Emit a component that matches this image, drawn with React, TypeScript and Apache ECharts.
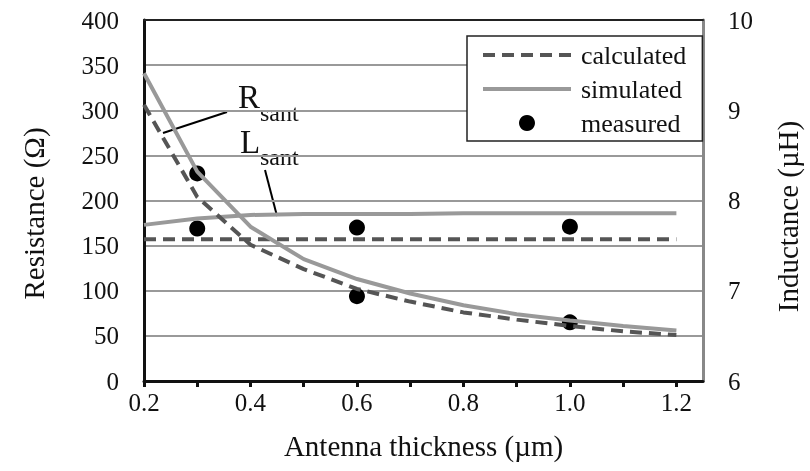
import React, { useEffect, useRef } from "react";
import * as echarts from "echarts";

const thickness = [0.2, 0.3, 0.4, 0.5, 0.6, 0.7, 0.8, 0.9, 1.0, 1.1, 1.2];
const calcR = [306, 204, 151, 124, 102, 88, 76, 68, 61, 55, 51];
const simR = [341, 232, 171, 135, 113, 97, 84, 74, 67, 61, 56];
const calcL = [7.57, 7.57, 7.57, 7.57, 7.57, 7.57, 7.57, 7.57, 7.57, 7.57, 7.57];
const simL = [7.73, 7.8, 7.84, 7.85, 7.85, 7.85, 7.86, 7.86, 7.86, 7.86, 7.86];
const measX = [0.3, 0.6, 1.0];
const measR = [230, 94, 65];
const measL = [7.69, 7.7, 7.71];
const legendNames = ["calculated", "simulated", "measured"];

const FONT = "Liberation Serif";
const pair = (xs: number[], ys: number[]) => xs.map((x, i) => [x, ys[i]]);

const CALC_COLOR = "#555";
const SIM_COLOR = "#999";
const CALC_DASH = [12, 7];

export default function App() {
  const ref = useRef<HTMLDivElement>(null);
  useEffect(() => {
    if (!ref.current) return;
    const chart = echarts.init(ref.current, null, { renderer: "svg" });
    const calcStyle = { color: CALC_COLOR, width: 4, type: CALC_DASH as any };
    const simStyle = { color: SIM_COLOR, width: 4, type: "solid" as any };
    chart.setOption({
      animation: false,
      grid: { left: 144, right: 100, top: 20, bottom: 90 },
      legend: {
        data: [
          { name: legendNames[0], itemStyle: { opacity: 0 }, lineStyle: { color: CALC_COLOR, width: 4, type: CALC_DASH } },
          { name: legendNames[1], itemStyle: { opacity: 0 }, lineStyle: { color: SIM_COLOR, width: 4, type: "solid" } },
          { name: legendNames[2], itemStyle: { color: "#000", opacity: 1 } },
        ],
        orient: "vertical",
        left: 467,
        top: 36,
        padding: [6, 16, 5, 14],
        itemWidth: 88,
        itemHeight: 16,
        itemGap: 8,
        backgroundColor: "#fff",
        borderColor: "#222",
        borderWidth: 1.5,
        borderRadius: 0,
        textStyle: { fontFamily: FONT, fontSize: 26, color: "#111", padding: [0, 0, 0, 5] },
      },
      xAxis: [
        {
          type: "value",
          min: 0.2,
          max: 1.25,
          interval: 0.1,
          name: "Antenna thickness (\u00b5m)",
          nameLocation: "middle",
          nameGap: 50,
          nameTextStyle: { fontFamily: FONT, fontSize: 29, color: "#111" },
          axisLine: { show: true, lineStyle: { color: "#111", width: 3 } },
          axisTick: { show: true, length: 6, lineStyle: { color: "#111", width: 3 } },
          axisLabel: {
            fontFamily: FONT,
            fontSize: 25,
            color: "#111",
            margin: 9,
            showMaxLabel: false,
            formatter: (v: number) => {
              const k = Math.round(v * 10);
              if (k % 2 !== 0 || v > 1.21) return "";
              return (k / 10).toFixed(1);
            },
          },
          splitLine: { show: false },
        },
        {
          type: "value",
          position: "top",
          min: 0.2,
          max: 1.25,
          axisLine: { show: true, lineStyle: { color: "#222", width: 2 } },
          axisTick: { show: false },
          axisLabel: { show: false },
          splitLine: { show: false },
        },
      ],
      yAxis: [
        {
          type: "value",
          min: 0,
          max: 400,
          interval: 50,
          position: "left",
          name: "Resistance (\u03a9)",
          nameLocation: "middle",
          nameRotate: 90,
          nameGap: 96,
          nameTextStyle: { fontFamily: FONT, fontSize: 29, color: "#111", padding: [0, 26, 0, 0] },
          axisLine: { show: true, lineStyle: { color: "#111", width: 3 } },
          axisTick: { show: false },
          axisLabel: { fontFamily: FONT, fontSize: 25, color: "#111", margin: 25 },
          splitLine: { show: true, lineStyle: { color: "#999", width: 2 } },
        },
        {
          type: "value",
          min: 6,
          max: 10,
          interval: 1,
          position: "right",
          name: "Inductance (\u00b5H)",
          nameLocation: "middle",
          nameRotate: 90,
          nameGap: 70,
          nameTextStyle: { fontFamily: FONT, fontSize: 29, color: "#111", padding: [0, 32, 0, 0] },
          axisLine: { show: true, lineStyle: { color: "#888", width: 3 } },
          axisTick: { show: false },
          axisLabel: { fontFamily: FONT, fontSize: 25, color: "#111", margin: 25 },
          splitLine: { show: false },
        },
      ],
      series: [
        {
          name: "calculated",
          type: "line",
          yAxisIndex: 1,
          data: pair(thickness, calcL),
          showSymbol: false,
          symbol: "none",
          lineStyle: calcStyle,
          itemStyle: { color: CALC_COLOR },
        },
        {
          name: "simulated",
          type: "line",
          yAxisIndex: 1,
          data: pair(thickness, simL),
          showSymbol: false,
          symbol: "none",
          lineStyle: simStyle,
          itemStyle: { color: SIM_COLOR },
        },
        {
          name: "simulated",
          type: "line",
          yAxisIndex: 0,
          data: pair(thickness, simR),
          showSymbol: false,
          symbol: "none",
          lineStyle: simStyle,
          itemStyle: { color: SIM_COLOR },
        },
        {
          name: "calculated",
          type: "line",
          yAxisIndex: 0,
          data: pair(thickness, calcR),
          showSymbol: false,
          symbol: "none",
          lineStyle: calcStyle,
          itemStyle: { color: CALC_COLOR },
        },
        {
          name: "measured",
          type: "scatter",
          yAxisIndex: 0,
          data: pair(measX, measR),
          symbol: "circle",
          symbolSize: 16,
          itemStyle: { color: "#000", opacity: 1 },
        },
        {
          name: "measured",
          type: "scatter",
          yAxisIndex: 1,
          data: pair(measX, measL),
          symbol: "circle",
          symbolSize: 16,
          itemStyle: { color: "#000", opacity: 1 },
        },
      ],
      graphic: [
        { type: "line", shape: { x1: 227, y1: 112, x2: 163, y2: 133 }, style: { stroke: "#000", lineWidth: 2 } },
        { type: "line", shape: { x1: 265, y1: 170, x2: 277, y2: 216 }, style: { stroke: "#000", lineWidth: 2 } },
        { type: "text", x: 238, y: 97, style: { text: "R", fontFamily: FONT, fontSize: 33, fill: "#111", verticalAlign: "middle" } },
        { type: "text", x: 260, y: 113, style: { text: "sant", fontFamily: FONT, fontSize: 24, fill: "#111", verticalAlign: "middle" } },
        { type: "text", x: 240, y: 142, style: { text: "L", fontFamily: FONT, fontSize: 33, fill: "#111", verticalAlign: "middle" } },
        { type: "text", x: 260, y: 157, style: { text: "sant", fontFamily: FONT, fontSize: 24, fill: "#111", verticalAlign: "middle" } },
      ],
    });
    return () => chart.dispose();
  }, []);
  return <div ref={ref} style={{ position: "fixed", left: 0, top: 0, width: 810, height: 471 }} />;
}
